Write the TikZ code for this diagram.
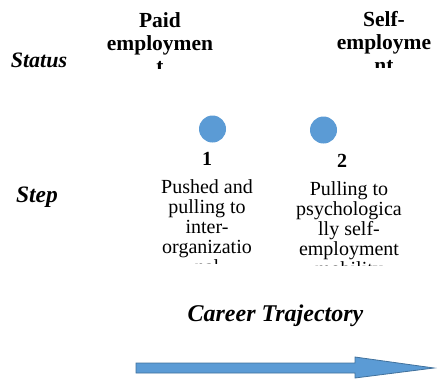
\documentclass[tikz,border=0pt]{standalone}
\usepackage{fontspec}
\setmainfont{Liberation Serif}
\definecolor{dotblue}{HTML}{5B9BD5}
\definecolor{arrowedge}{HTML}{41719C}
\tikzset{
  rowlabel/.style={inner sep=0pt, anchor=base, font=\fontsize{22}{22}\selectfont\bfseries\itshape},
  statustext/.style={inner sep=0pt, anchor=base, align=center, font=\fontsize{21.5}{23}\selectfont\bfseries},
  steptext/.style={inner sep=0pt, anchor=base, align=center, font=\fontsize{20}{20}\selectfont},
  stepnum/.style={inner sep=0pt, anchor=base, font=\fontsize{20}{20}\selectfont\bfseries},
  dot/.style={circle, fill=dotblue, minimum size=27pt, inner sep=0pt},
  bigarrow/.style={fill=dotblue, draw=arrowedge, line width=0.8pt, line join=miter}
}
\begin{document}
\begin{tikzpicture}[x=1pt,y=-1pt]
\useasboundingbox (0,0) rectangle (439,381);
\node[rowlabel] (status) at (39,67) {Status};
\node[rowlabel, font=\fontsize{23.5}{23.5}\selectfont\bfseries\itshape] (step) at (37,202) {Step};
\begin{scope}
  \clip (90,0) rectangle (240,68);
  \node[statustext] (paid) at (160,73) {Paid\\employmen\\t};
\end{scope}
\begin{scope}
  \clip (320,0) rectangle (439,67);
  \node[statustext] (self) at (384,72) {Self-\\employme\\nt};
\end{scope}
\node[dot] (d1) at (212.5,129) {};
\node[dot] (d2) at (323.5,130) {};
\node[stepnum] (n1) at (207,165) {1};
\node[stepnum] (n2) at (342,167) {2};
\begin{scope}
  \clip (140,170) rectangle (280,263);
  \node[steptext] (t1) at (207,273) {Pushed and\\pulling to\\inter-\\organizatio\\nal};
\end{scope}
\begin{scope}
  \clip (280,170) rectangle (439,265);
  \node[steptext] (t2) at (349,275) {Pulling to\\psychologica\\lly self-\\employment\\mobility};
\end{scope}
\node[rowlabel, font=\fontsize{24}{24}\selectfont\bfseries\itshape] (career) at (275.5,321) {Career Trajectory};
\draw[bigarrow] (136,363) -- (355,363) -- (355,357) -- (434,368) -- (355,378) -- (355,373) -- (136,373) -- cycle;
\end{tikzpicture}
\end{document}
